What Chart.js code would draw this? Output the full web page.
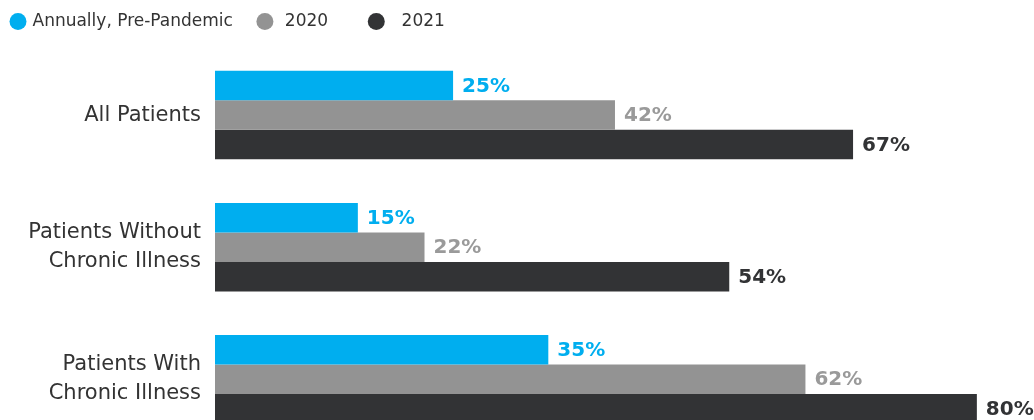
<!DOCTYPE html>
<html>
<head>
<meta charset="utf-8">
<script src="https://cdn.jsdelivr.net/npm/chart.js@4"></script>
<style>
  html, body { margin: 0; padding: 0; background: #fff; overflow: hidden; }
  #wrap { position: relative; width: 1034px; height: 474px; }
</style>
</head>
<body>
<div id="wrap"><canvas id="barChart"></canvas></div>
<script>
let categories = [
    'All Patients',
    ['Patients Without', 'Chronic Illness'],
    ['Patients With', 'Chronic Illness']
];

let seriesNames = ['Annually, Pre-Pandemic', '2020', '2021'];

let prePandemic = [25, 15, 35];
let year2020 = [42, 22, 62];
let year2021 = [67, 54, 80];

let barColors = ['#00aeef', '#939393', '#323335'];
let labelColors = ['#00aeef', '#9a9a9a', '#323335'];

// uneven spacing of the original legend, done with spaces
let legendPad = [['', ''], [' ', '   '], ['  ', '']];

const FONT = "'DejaVu Sans', 'Open Sans', sans-serif";

// value labels at the end of each bar
const valueLabels = {
    id: 'valueLabels',
    afterDatasetsDraw(chart) {
        const ctx = chart.ctx;
        ctx.save();
        ctx.font = 'bold 20px ' + FONT;
        ctx.textBaseline = 'middle';
        ctx.textAlign = 'left';
        chart.data.datasets.forEach((ds, i) => {
            const meta = chart.getDatasetMeta(i);
            ctx.fillStyle = labelColors[i];
            meta.data.forEach((bar, j) => {
                ctx.fillText(ds.data[j] + '%', bar.x + 9, bar.y + 1);
            });
        });
        ctx.restore();
    }
};

// a bit more room under the legend
const legendGap = {
    id: 'legendGap',
    beforeInit(chart) {
        const fit = chart.legend.fit;
        chart.legend.fit = function () {
            fit.call(this);
            this.height += 9;
        };
    }
};

const data = {
    labels: categories,
    datasets: [
        { label: seriesNames[0], data: prePandemic, backgroundColor: barColors[0] },
        { label: seriesNames[1], data: year2020, backgroundColor: barColors[1] },
        { label: seriesNames[2], data: year2021, backgroundColor: barColors[2] }
    ]
};

const config = {
    type: 'bar',
    data: data,
    options: {
        indexAxis: 'y',
        responsive: true,
        maintainAspectRatio: false,
        animation: false,
        layout: { padding: { left: -14, right: 0, top: -13, bottom: 0 } },
        datasets: {
            bar: {
                categoryPercentage: 0.67,
                barPercentage: 1.0,
                borderWidth: 0
            }
        },
        plugins: {
            legend: {
                display: true,
                position: 'top',
                align: 'start',
                labels: {
                    usePointStyle: true,
                    pointStyle: 'circle',
                    boxWidth: 12,
                    boxHeight: 12,
                    padding: 26,
                    color: '#333',
                    font: { family: FONT, size: 17 },
                    generateLabels(chart) {
                        const items = Chart.defaults.plugins.legend.labels.generateLabels(chart);
                        items.forEach((item, i) => {
                            item.text = legendPad[i][0] + item.text + legendPad[i][1];
                        });
                        return items;
                    }
                }
            },
            tooltip: { enabled: false }
        },
        scales: {
            x: {
                display: false,
                min: 0,
                max: 86
            },
            y: {
                grid: { display: false, drawTicks: false },
                border: { display: false },
                afterFit(scale) { scale.width = 229; },
                ticks: {
                    color: '#333',
                    padding: 14,
                    font: { family: FONT, size: 21, lineHeight: 1.4 }
                }
            }
        }
    },
    plugins: [legendGap, valueLabels]
};

const chart = new Chart(
    document.getElementById('barChart'),
    config
);
</script>
</body>
</html>
